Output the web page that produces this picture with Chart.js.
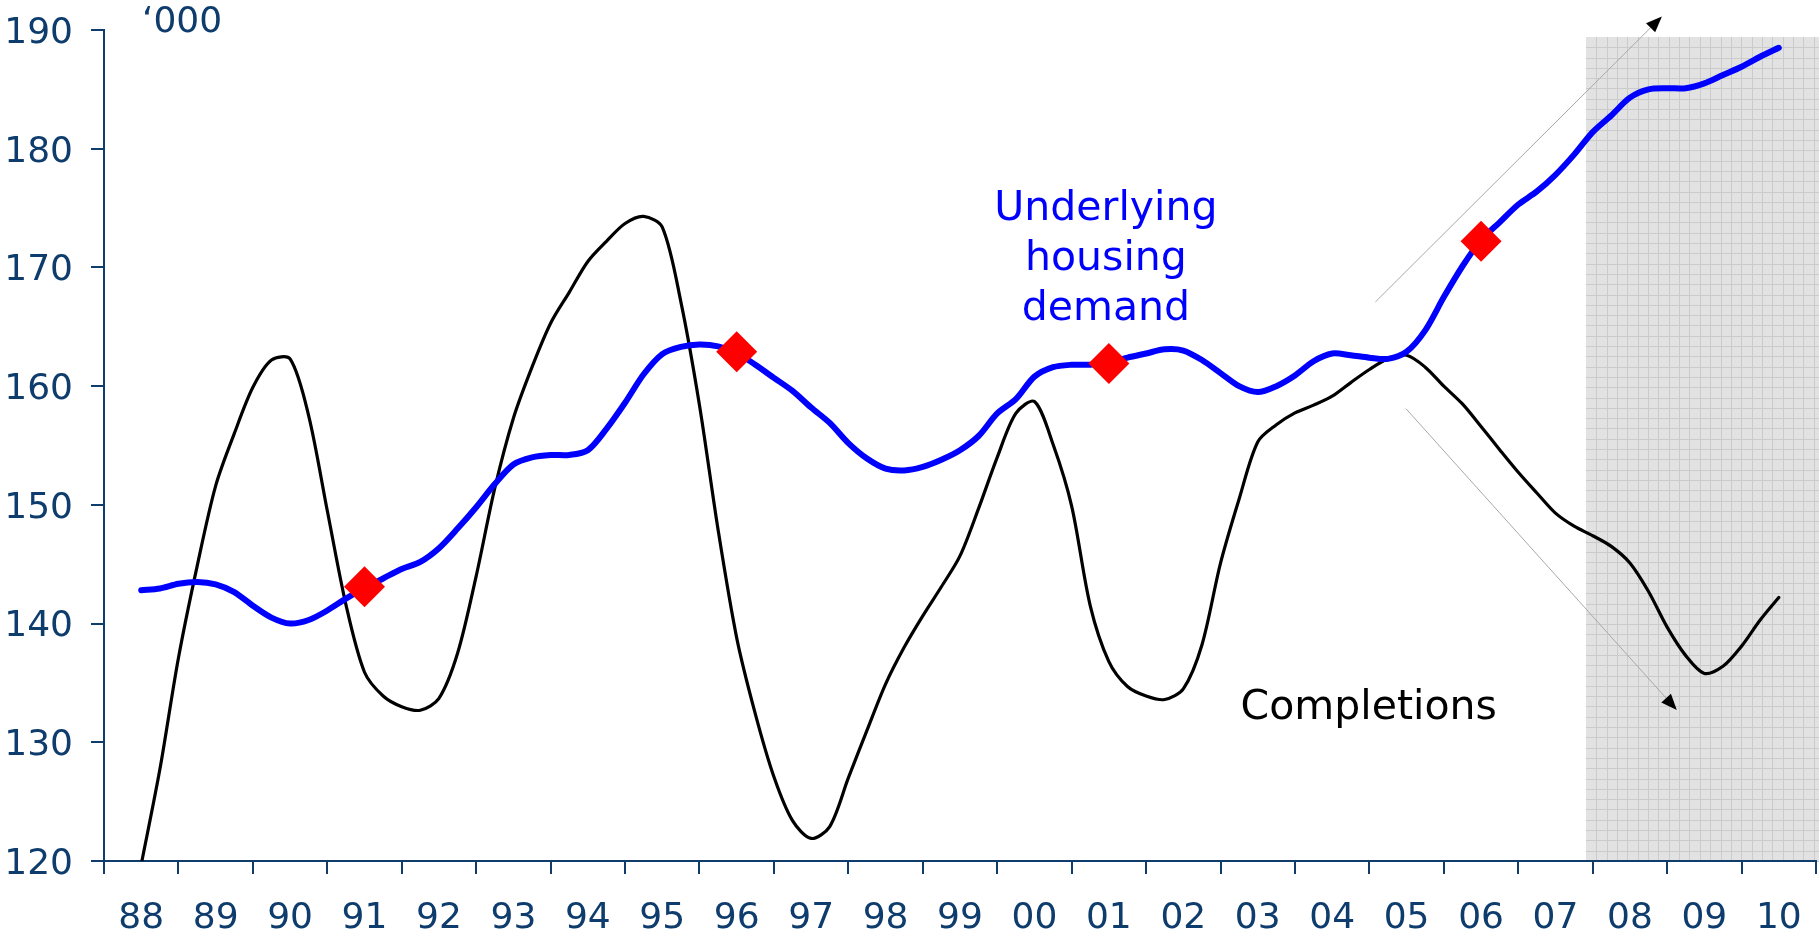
<!DOCTYPE html>
<html><head><meta charset="utf-8">
<script src="https://cdn.jsdelivr.net/npm/chart.js@4/dist/chart.umd.min.js"></script>
<style>html,body{margin:0;padding:0;background:#fff;overflow:hidden}canvas{display:block}</style>
</head><body>
<canvas id="c" width="1819" height="938"></canvas>
<script>
// ---- data ----
const yearLabels = ['88','89','90','91','92','93','94','95','96','97','98','99','00','01','02','03','04','05','06','07','08','09','10'];
const axisStartYear = 1988;
const axisEndYear = 2011;
const firstQuarter = 1988.5;   // first observation (decimal year)
const quarterStep = 0.25;

const completions = [
  119.7, 127.7,
  137.1, 144.8, 151.6, 156.0,
  159.9, 162.2, 162.3, 157.5,
  149.5, 141.6, 135.9, 133.9,
  133.0, 132.7, 133.7, 137.5,
  144.0, 151.4, 157.3, 161.6,
  165.3, 167.9, 170.5, 172.2,
  173.7, 174.3, 173.4, 167.1,
  158.4, 147.9, 138.8, 132.4,
  127.1, 123.4, 121.9, 122.9,
  127.0, 131.0, 134.9, 138.0,
  140.65, 143.1, 145.7, 149.7,
  154.0, 157.7, 158.7, 155.1,
  149.9, 141.5, 136.8, 134.7,
  133.9, 133.6, 134.5, 138.2,
  145.1, 150.5, 155.3, 156.75,
  157.75, 158.4, 159.15, 160.3,
  161.4, 162.3, 162.6, 161.6,
  160.0, 158.5, 156.6, 154.65,
  152.75, 151.0, 149.3, 148.2,
  147.4, 146.5, 145.1, 142.7,
  139.7, 137.3, 135.8, 136.4,
  138.1, 140.3, 142.2
];

const demand = [
  142.8, 142.95,
  143.35, 143.5, 143.3, 142.65,
  141.5, 140.5, 140.0, 140.3,
  141.1, 142.1, 143.0, 143.8,
  144.6, 145.2, 146.35, 148.0,
  149.8, 151.75, 153.4, 154.0,
  154.2, 154.2, 154.6, 156.4,
  158.6, 161.0, 162.7, 163.3,
  163.5, 163.35, 162.8, 161.8,
  160.7, 159.6, 158.2, 156.9,
  155.2, 153.9, 153.05, 152.9,
  153.2, 153.8, 154.6, 155.8,
  157.7, 158.9, 160.8, 161.6,
  161.8, 161.8, 162.0, 162.4,
  162.75, 163.1, 163.0, 162.2,
  161.1, 160.0, 159.5, 160.0,
  160.9, 162.1, 162.75, 162.6,
  162.4, 162.3, 162.9, 164.7,
  167.5, 170.1, 172.3, 173.8,
  175.3, 176.4, 177.8, 179.5,
  181.4, 182.8, 184.3, 185.0,
  185.1, 185.1, 185.5, 186.2,
  186.9, 187.75, 188.5
];

const markerYears  = [1991.5, 1996.5, 2001.5, 2006.5];
const markerValues = [143.1, 162.9, 161.9, 172.2];

const yMin = 120, yMax = 190, yStep = 10;

// annotations (data units)
const forecastStart = 2007.91;
const forecastTop = 189.4;
const arrowUp   = { from: [2005.08, 167.09], to: [2008.93, 191.14] };
const arrowDown = { from: [2005.49, 158.11], to: [2009.13, 132.72] };
const demandLabel = { lines: ['Underlying', 'housing', 'demand'], x: 2001.46, y: [174.03, 169.76, 165.57] };
const completionsLabel = { text: 'Completions', x: 2003.27, y: 131.96 };
const unitLabel = '\u2018000';

// ---- styles ----
const NAVY = '#0E3C6C';
const FONT = 'DejaVu Sans';

const toPoints = (vals) => vals.map((v, i) => ({ x: firstQuarter + i * quarterStep, y: v }));

const annot = {
  id: 'annot',
  beforeDraw(chart) {
    const { ctx, chartArea: a, scales: { xv, y } } = chart;
    const x0 = Math.round(xv.getPixelForValue(forecastStart));
    const y0 = Math.round(y.getPixelForValue(forecastTop));
    const x1 = chart.width, y1 = a.bottom;
    ctx.save();
    ctx.fillStyle = '#E2E2E2';
    ctx.fillRect(x0, y0, x1 - x0, y1 - y0);
    ctx.strokeStyle = '#CBCBCB';
    ctx.lineWidth = 1;
    ctx.beginPath();
    for (let x = x0 + 10.35; x < x1; x += 10.35) { const px = Math.round(x) + 0.5; ctx.moveTo(px, y0); ctx.lineTo(px, y1); }
    for (let yy = y0 + 10.3; yy < y1; yy += 10.3) { const py = Math.round(yy) + 0.5; ctx.moveTo(x0, py); ctx.lineTo(x1, py); }
    ctx.stroke();
    ctx.restore();
  },
  beforeDatasetsDraw(chart) {
    const { ctx, scales: { xv, y } } = chart;
    ctx.save();
    [arrowUp, arrowDown].forEach(ar => {
      const fx = xv.getPixelForValue(ar.from[0]), fy = y.getPixelForValue(ar.from[1]);
      const tx = xv.getPixelForValue(ar.to[0]), ty = y.getPixelForValue(ar.to[1]);
      const ang = Math.atan2(ty - fy, tx - fx);
      const L = 16, W = 6.5;
      const bx = tx - L * Math.cos(ang), by = ty - L * Math.sin(ang);
      ctx.strokeStyle = '#A8A8A8';
      ctx.lineWidth = 1;
      ctx.beginPath(); ctx.moveTo(fx, fy); ctx.lineTo(bx, by); ctx.stroke();
      ctx.fillStyle = '#000';
      ctx.beginPath();
      ctx.moveTo(tx, ty);
      ctx.lineTo(bx + W * Math.sin(ang), by - W * Math.cos(ang));
      ctx.lineTo(bx - W * Math.sin(ang), by + W * Math.cos(ang));
      ctx.closePath(); ctx.fill();
    });
    ctx.restore();
  },
  afterDatasetsDraw(chart) {
    const { ctx, chartArea: a, scales: { xv, y } } = chart;
    ctx.save();
    ctx.textBaseline = 'alphabetic';
    ctx.font = '41px "' + FONT + '"';
    ctx.fillStyle = '#0000FF';
    ctx.textAlign = 'center';
    demandLabel.lines.forEach((t, i) => ctx.fillText(t, xv.getPixelForValue(demandLabel.x), y.getPixelForValue(demandLabel.y[i])));
    ctx.fillStyle = '#000';
    ctx.textAlign = 'left';
    ctx.fillText(completionsLabel.text, xv.getPixelForValue(completionsLabel.x), y.getPixelForValue(completionsLabel.y));
    ctx.font = '36px "' + FONT + '"';
    ctx.fillStyle = NAVY;
    ctx.fillText(unitLabel, a.left + 38, a.top + 2);
    ctx.restore();
  }
};

new Chart(document.getElementById('c'), {
  type: 'line',
  data: {
    labels: yearLabels,
    datasets: [
      { label: 'Markers', xAxisID: 'xv', data: markerYears.map((t, i) => ({ x: t, y: markerValues[i] })),
        showLine: false, pointStyle: 'rectRot', pointRadius: 20.5, pointBackgroundColor: '#FF0000',
        pointBorderWidth: 0, pointBorderColor: '#FF0000' },
      { label: 'Underlying housing demand', xAxisID: 'xv', data: toPoints(demand),
        borderColor: '#0000FF', borderWidth: 6, pointRadius: 0, tension: 0.3,
        borderCapStyle: 'round', borderJoinStyle: 'round' },
      { label: 'Completions', xAxisID: 'xv', data: toPoints(completions),
        borderColor: '#000000', borderWidth: 3.2, pointRadius: 0, tension: 0.3,
        borderCapStyle: 'round', borderJoinStyle: 'round' }
    ]
  },
  options: {
    responsive: false,
    animation: false,
    devicePixelRatio: 1,
    layout: { autoPadding: false, padding: { top: 30, right: 3, left: 0, bottom: 0 } },
    plugins: { legend: { display: false }, tooltip: { enabled: false } },
    scales: {
      x: {
        type: 'category', position: 'bottom', offset: true,
        grid: { offset: true, drawOnChartArea: false, drawTicks: true, tickLength: 13, color: NAVY, lineWidth: 2 },
        border: { display: true, color: NAVY, width: 2 },
        ticks: { font: { family: FONT, size: 36, lineHeight: 2.47 }, color: NAVY, padding: 0, maxRotation: 0, autoSkip: false },
        afterFit(s) { s.height = 77; s.paddingLeft = 0; s.paddingRight = 0; }
      },
      xv: { type: 'linear', position: 'bottom', min: axisStartYear, max: axisEndYear, display: false,
        ticks: { display: false }, grid: { display: false },
        afterFit(s) { s.height = 0; s.paddingLeft = 0; s.paddingRight = 0; } },
      y: {
        type: 'linear', position: 'left', min: yMin, max: yMax,
        ticks: { stepSize: yStep, font: { family: FONT, size: 36 }, color: NAVY, padding: 18, labelOffset: 3.5 },
        grid: { drawOnChartArea: false, drawTicks: true, tickLength: 13, color: NAVY, lineWidth: 2 },
        border: { display: true, color: NAVY, width: 2 },
        afterFit(s) { s.width = 104; s.paddingTop = 0; s.paddingBottom = 0; }
      }
    }
  },
  plugins: [annot]
});
</script>
</body></html>
